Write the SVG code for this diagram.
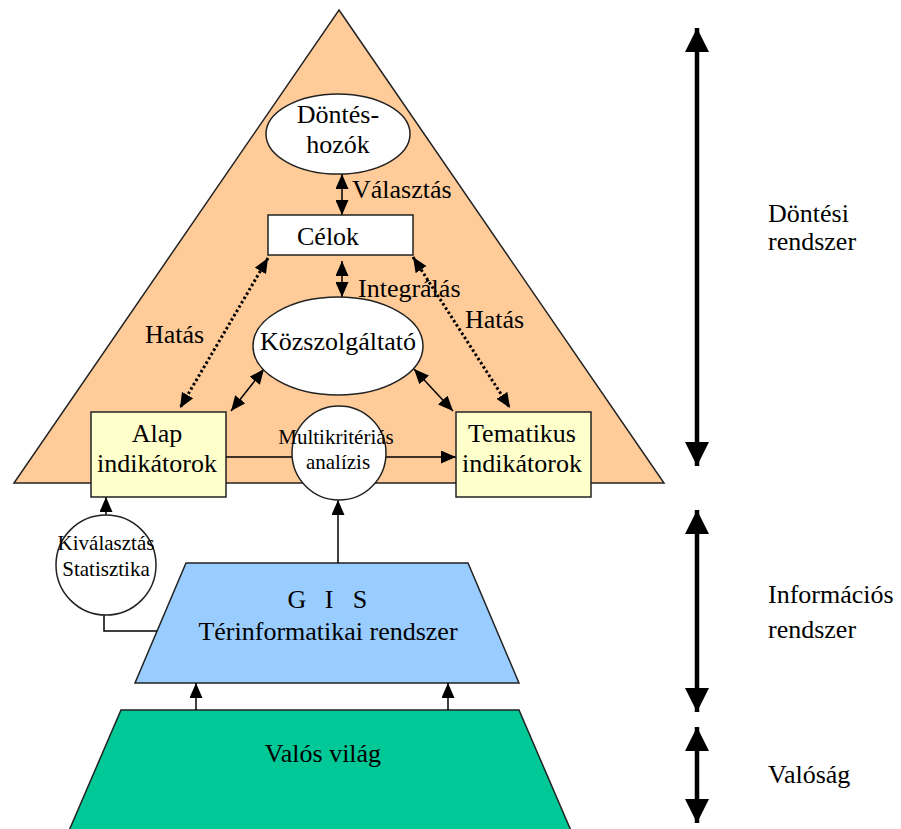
<svg xmlns="http://www.w3.org/2000/svg" width="901" height="829" viewBox="0 0 901 829" font-family="'Liberation Serif', 'Times New Roman', 'DejaVu Serif', serif">
<style>
text{font-family:'Liberation Serif','Times New Roman','DejaVu Serif',serif;fill:#000}
.t26{font-size:26px}
.t21{font-size:21px}
.mid{text-anchor:middle}
.shape{stroke:#222;stroke-width:1.5}
.ln{stroke:#000;stroke-width:1.5;fill:none}
.dot{stroke:#000;stroke-width:3;fill:none;stroke-dasharray:2.5 2.5}
.big{stroke:#000;stroke-width:4.5;fill:none}
</style>
<defs>
<marker id="ah" markerUnits="userSpaceOnUse" markerWidth="15" markerHeight="13" refX="15" refY="6.5" orient="auto-start-reverse" viewBox="0 0 15 13">
<path d="M0,0 L15,6.5 L0,13 z" fill="#000"/>
</marker>
<marker id="ahb" markerUnits="userSpaceOnUse" markerWidth="24" markerHeight="24" refX="24" refY="12" orient="auto-start-reverse" viewBox="0 0 24 24">
<path d="M0,0 L24,12 L0,24 z" fill="#000"/>
</marker>
</defs>

<g id="dontesi-rendszer-layer">
<polygon class="shape" points="339,10 664,483 14,483" fill="#FFCC99"/>
</g>
<g id="gis">
<polygon class="shape" points="186,563 468,563 519,683 135,683" fill="#99CCFF"/>
<text class="t26" font-family="Liberation Serif, serif"><tspan x="297" y="608" class="mid">G</tspan><tspan x="329" y="608" class="mid">I</tspan><tspan x="360" y="608" class="mid">S</tspan></text>
<text class="t26 mid" font-family="Liberation Serif, serif" x="328" y="640">Térinformatikai rendszer</text>
</g>
<g id="valos-vilag">
<polygon class="shape" points="121,710 519,710 572,833 68,833" fill="#00C896"/>
<text class="t26 mid" font-family="Liberation Serif, serif" x="323" y="762">Valós világ</text>
</g>

<g id="connectors">
<line class="ln" x1="342" y1="174" x2="342" y2="215" marker-start="url(#ah)" marker-end="url(#ah)"/>
<line class="ln" x1="342" y1="261" x2="342" y2="297" marker-start="url(#ah)" marker-end="url(#ah)"/>
<line class="dot" x1="268" y1="258" x2="180" y2="408" marker-start="url(#ah)" marker-end="url(#ah)"/>
<line class="dot" x1="413" y1="257" x2="510" y2="408" marker-start="url(#ah)" marker-end="url(#ah)"/>
<line class="ln" x1="264" y1="369" x2="231" y2="411" marker-start="url(#ah)" marker-end="url(#ah)"/>
<line class="ln" x1="414" y1="369" x2="453" y2="411" marker-start="url(#ah)" marker-end="url(#ah)"/>
<line class="ln" x1="226" y1="457" x2="456" y2="457" marker-end="url(#ah)"/>
<line class="ln" x1="106" y1="515" x2="106" y2="497" marker-end="url(#ah)"/>
<polyline class="ln" points="104,615 104,631 157,631"/>
<line class="ln" x1="338" y1="563" x2="338" y2="500" marker-end="url(#ah)"/>
<line class="ln" x1="196" y1="710" x2="196" y2="683" marker-end="url(#ah)"/>
<line class="ln" x1="448" y1="710" x2="448" y2="683" marker-end="url(#ah)"/>
<line class="big" x1="697" y1="28" x2="697" y2="466" marker-start="url(#ahb)" marker-end="url(#ahb)"/>
<line class="big" x1="697" y1="510" x2="697" y2="712" marker-start="url(#ahb)" marker-end="url(#ahb)"/>
<line class="big" x1="697" y1="727" x2="697" y2="823" marker-start="url(#ahb)" marker-end="url(#ahb)"/>
</g>

<g id="labels" font-family="Liberation Serif, serif">
<text class="t26" x="352" y="198">Választás</text>
<text class="t26" x="358" y="297">Integrálás</text>
<text class="t26" x="145" y="343">Hatás</text>
<text class="t26" x="465" y="328">Hatás</text>
<text class="t26" x="768" y="222">Döntési</text>
<text class="t26" x="768" y="250">rendszer</text>
<text class="t26" x="768" y="603">Információs</text>
<text class="t26" x="768" y="638">rendszer</text>
<text class="t26" x="768" y="783">Valóság</text>
</g>

<g id="dontes-hozok" font-family="Liberation Serif, serif">
<ellipse class="shape" cx="338" cy="134" rx="72" ry="40" fill="#fff"/>
<text class="t26 mid" x="338" y="123">Döntés-</text>
<text class="t26 mid" x="338" y="153">hozók</text>
</g>
<g id="celok" font-family="Liberation Serif, serif">
<rect class="shape" x="268" y="215" width="145" height="40" fill="#fff"/>
<text class="t26" x="297" y="245">Célok</text>
</g>
<g id="kozszolgaltato" font-family="Liberation Serif, serif">
<ellipse class="shape" cx="338" cy="346" rx="85" ry="49" fill="#fff"/>
<text class="t26 mid" x="338" y="350">Közszolgáltató</text>
</g>
<g id="alap-indikatorok" font-family="Liberation Serif, serif">
<rect class="shape" x="91" y="412" width="135" height="85" fill="#FFFFCC"/>
<text class="t26 mid" x="157" y="442">Alap</text>
<text class="t26 mid" x="157" y="472">indikátorok</text>
</g>
<g id="tematikus-indikatorok" font-family="Liberation Serif, serif">
<rect class="shape" x="456" y="412" width="135" height="85" fill="#FFFFCC"/>
<text class="t26 mid" x="522" y="442">Tematikus</text>
<text class="t26 mid" x="522" y="472">indikátorok</text>
</g>
<g id="multikriterias" font-family="Liberation Serif, serif">
<circle class="shape" cx="339" cy="453" r="47" fill="#fff"/>
<text class="t21 mid" x="336" y="444">Multikritériás</text>
<text class="t21 mid" x="338" y="469">analízis</text>
</g>
<g id="kivalasztas" font-family="Liberation Serif, serif">
<circle class="shape" cx="106" cy="565" r="50" fill="#fff"/>
<text class="t21 mid" x="106" y="550">Kiválasztás</text>
<text class="t21 mid" x="106" y="576">Statisztika</text>
</g>
</svg>
